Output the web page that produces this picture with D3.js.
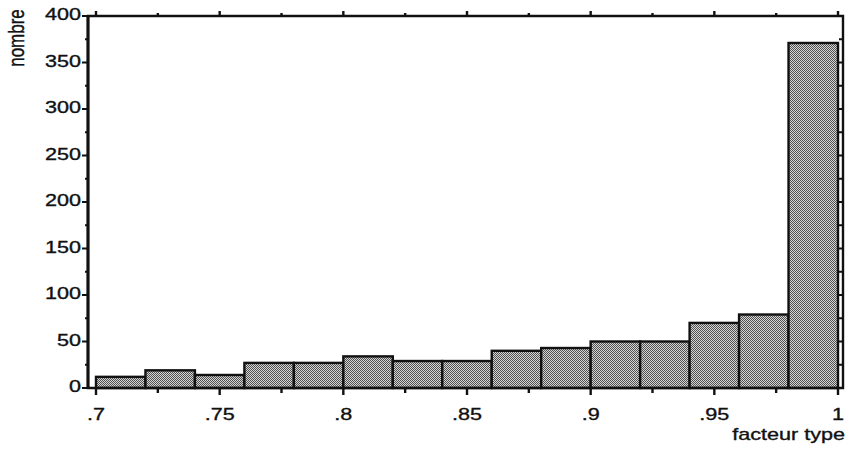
<!DOCTYPE html>
<html><head><meta charset="utf-8">
<script src="https://cdn.jsdelivr.net/npm/d3@7"></script>
<style>body{margin:0;background:#fff}svg{display:block}text{font-family:"Liberation Sans",Arial,sans-serif;fill:#111;stroke:#111;stroke-width:0.35px}</style>
</head><body><svg id="c" width="850" height="450"></svg>
<script>
const binStarts = [0.70,0.72,0.74,0.76,0.78,0.80,0.82,0.84,0.86,0.88,0.90,0.92,0.94,0.96,0.98];
const binWidth = 0.02;
const counts = [12,19,14,27,27,34,29,29,40,43,50,50,70,79,371];
const xTickValues = [0.7,0.75,0.8,0.85,0.9,0.95,1];
const xTickLabels = [".7",".75",".8",".85",".9",".95","1"];
const yTickValues = [0,50,100,150,200,250,300,350,400];

(function(){
const svg = d3.select("#c");
const L = 88, R = 843, T = 16, B = 388;
const SX = 1.27;
const x = d3.scaleLinear().domain([0.7,1]).range([96,838]);
const y = d3.scaleLinear().domain([0,400]).range([B,T]);

const defs = svg.append("defs");
const pat = defs.append("pattern").attr("id","stip").attr("width",2).attr("height",2).attr("patternUnits","userSpaceOnUse");
pat.append("rect").attr("width",2).attr("height",2).attr("fill","#d6d6d6");
pat.append("rect").attr("width",1).attr("height",1).attr("fill","#505050");
pat.append("rect").attr("x",1).attr("y",1).attr("width",1).attr("height",1).attr("fill","#505050");

// bars
svg.append("g").selectAll("rect").data(binStarts).join("rect")
  .attr("x",(d)=>x(d)).attr("width",(d)=>x(d+binWidth)-x(d))
  .attr("y",(d,i)=>y(counts[i])).attr("height",(d,i)=>y(0)-y(counts[i]))
  .attr("fill","url(#stip)").attr("stroke","#111").attr("stroke-width",2.4);

// frame
const frame = svg.append("g").attr("stroke","#111").attr("fill","none");
frame.append("path").attr("d",`M${L},${B}H${R}V${T}H${L}Z`).attr("stroke-width",2.4);
frame.append("line").attr("x1",L).attr("x2",L).attr("y1",T).attr("y2",B+1).attr("stroke-width",3);

const minorX = d3.range(0.7,1.0001,0.025);
const minorY = d3.range(0,401,25);

// bottom axis ticks
const botG = svg.append("g").attr("transform",`translate(0,${B})`);
botG.selectAll("line").data(minorX).join("line")
  .attr("x1",d=>x(d)).attr("x2",d=>x(d)).attr("y1",0)
  .attr("y2",(d,i)=>i%2===0?7:5).attr("stroke","#111").attr("stroke-width",2.4);
botG.selectAll("text").data(xTickValues).join("text")
  .attr("transform",d=>`translate(${x(d)},32) scale(${SX},1)`).attr("text-anchor","middle")
  .attr("font-size",17).text((d,i)=>xTickLabels[i]);

// top axis ticks
const topG = svg.append("g").attr("transform",`translate(0,${T})`);
topG.selectAll("line").data(minorX).join("line")
  .attr("x1",d=>x(d)).attr("x2",d=>x(d)).attr("y1",0)
  .attr("y2",(d,i)=>i%2===0?-5:-3).attr("stroke","#111").attr("stroke-width",2.4);

// left axis
const leftG = svg.append("g").attr("transform",`translate(${L},0)`);
leftG.selectAll("line").data(minorY).join("line")
  .attr("y1",d=>y(d)).attr("y2",d=>y(d)).attr("x1",0)
  .attr("x2",(d,i)=>i%2===0?-6:-3).attr("stroke","#111").attr("stroke-width",2);
leftG.selectAll("text").data(yTickValues).join("text")
  .attr("transform",d=>`translate(-7,${y(d)}) scale(${SX},1)`).attr("dy","0.26em").attr("text-anchor","end")
  .attr("font-size",17).text(d=>d);

// right axis ticks
const rightG = svg.append("g").attr("transform",`translate(${R},0)`);
rightG.selectAll("line").data(minorY.slice(1)).join("line")
  .attr("y1",d=>y(d)).attr("y2",d=>y(d)).attr("x1",0)
  .attr("x2",-4).attr("stroke","#111").attr("stroke-width",2);

svg.append("text").attr("transform",`translate(24,38) rotate(-90) scale(1,1.35)`)
  .attr("text-anchor","middle").attr("font-size",17).text("nombre");
svg.append("text").attr("transform",`translate(845,440) scale(${SX},1)`).attr("text-anchor","end")
  .attr("font-size",17).text("facteur type");
})();
</script></body></html>
